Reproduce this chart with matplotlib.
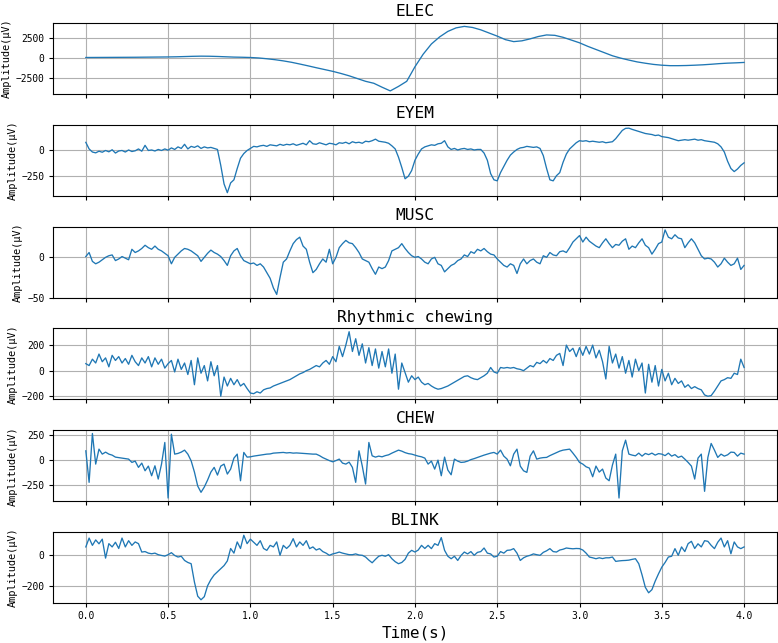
import numpy as np
import matplotlib
matplotlib.use('Agg')
import matplotlib.pyplot as plt

titles = ['ELEC', 'EYEM', 'MUSC', 'Rhythmic chewing', 'CHEW', 'BLINK']

# ELEC sampled every 0.05 s
elec = [80, 85, 90, 95, 100, 105, 110, 120, 130, 140,
        150, 170, 200, 230, 250, 240, 210, 170, 130, 110,
        80, 20, -80, -200, -350, -530, -750, -980, -1220, -1450,
        -1680, -1950, -2250, -2600, -2950, -3200, -3700, -4170, -3600, -2950,
        -1100, 500, 1800, 2700, 3400, 3850, 4040, 3900, 3600, 3200,
        2800, 2350, 2100, 2200, 2450, 2750, 2950, 2900, 2650, 2300,
        1950, 1500, 1100, 700, 300, 0, -250, -480, -650, -800,
        -900, -960, -960, -940, -900, -850, -780, -700, -640, -600,
        -550]

# the rest sampled every 0.02 s
eyem = [74, 10, -20, -28, -12, -22, -5, -18, 2, -30,
        -10, -5, -20, 0, -15, -8, 10, -12, 45, -5,
        0, -10, 5, -5, 10, -2, 20, 5, 30, 15,
        55, 10, 35, 25, 40, 15, 30, 20, 25, 15,
        5, -150, -330, -415, -320, -290, -180, -80, -35, -5,
        15, 35, 30, 40, 45, 35, 50, 45, 40, 55,
        45, 55, 50, 60, 45, 55, 65, 50, 90, 60,
        55, 70, 60, 50, 65, 60, 50, 70, 65, 75,
        60, 80, 70, 75, 65, 85, 80, 90, 105, 85,
        80, 75, 65, 40, 10, -70, -170, -280, -255, -200,
        -100, -40, 10, 30, 40, 50, 45, 60, 65, 90,
        30, 5, 15, 0, 10, 15, 5, 10, 0, 5,
        5, -30, -100, -230, -290, -300, -220, -160, -100, -50,
        -20, 5, 20, 25, 35, 30, 25, 30, 15, -55,
        -180, -290, -300, -250, -220, -120, -40, 10, 40, 70,
        90, 85, 90, 80, 85, 80, 75, 80, 70, 75,
        80, 110, 150, 190, 210, 212, 200, 190, 180, 170,
        160, 155, 150, 140, 145, 130, 125, 120, 110, 100,
        90, 95, 100, 95, 100, 105, 95, 100, 90, 85,
        80, 75, 60, 30, -20, -110, -180, -210, -185, -150,
        -125]

musc = [1, 6, -5, -8, -6, -3, 0, 2, 3, -4,
        -2, 1, -1, -3, 10, 6, 8, 11, 15, 12,
        10, 14, 10, 8, 5, 2, -8, 0, 4, 8,
        11, 10, 8, 5, 2, -5, 0, 5, 9, 6,
        4, 1, -4, -10, 2, 8, 11, 2, -4, -6,
        -8, -7, -10, -8, -12, -19, -26, -38, -46, -25,
        -6, -2, 8, 17, 22, 25, 14, 10, -6, -19,
        -15, -8, -2, -6, 10, -8, 0, 12, 17, 21,
        18, 17, 12, 6, -2, -4, -6, -14, -21, -12,
        -14, -12, -4, 8, 10, 12, 17, 11, 6, 2,
        0, 1, -2, -6, -8, -2, 0, -8, -10, -18,
        -14, -10, -8, -4, -2, 3, 1, 7, 5, 10,
        8, 11, 7, 4, 3, -2, -6, -10, -12, -8,
        -10, -20, -8, -2, -8, -4, -2, -6, -8, 2,
        0, 6, 3, 2, 7, 8, 6, 12, 19, 23,
        27, 19, 25, 20, 17, 14, 12, 18, 23, 17,
        12, 16, 15, 20, 23, 10, 14, 12, 18, 23,
        15, 12, 4, 10, 17, 19, 34, 25, 23, 28,
        24, 23, 12, 18, 23, 18, 10, 2, -2, -1,
        -2, -6, -12, -8, -1, -6, -10, -8, -1, -15,
        -10]

rhythm = [55, 40, 90, 60, 130, 70, 100, 30, 120, 80,
          110, 60, 95, 50, 120, 70, 40, 100, 60, 110,
          30, 100, 50, 90, 20, 55, 80, -10, 90, 10,
          60, -30, 80, -110, 100, -20, 40, -80, 70, -40,
          40, -200, -50, -120, -60, -110, -70, -120, -100, -140,
          -175, -180, -165, -175, -150, -140, -135, -120, -110, -100,
          -90, -80, -70, -55, -40, -25, -15, 0, 10, 25,
          40, 30, 60, 80, 50, 110, 70, 190, 110, 200,
          305, 150, 250, 120, 210, 60, 180, 40, 170, 20,
          150, 30, 170, -20, 130, -145, 60, -15, -90, -40,
          -70, -50, -90, -110, -100, -120, -135, -145, -140, -130,
          -120, -105, -90, -75, -60, -45, -40, -55, -65, -70,
          -55, -40, -20, 25, -10, -20, 25, 20, 25, 20,
          25, 15, 10, 0, 20, 40, 30, 65, 55, 80,
          60, 95, 80, 120, 135, 40, 200, 150, 175, 110,
          180, 120, 190, 130, 200, 100, 160, 70, -65, 190,
          60, 130, 20, 110, -20, 80, -50, 90, 0, 60,
          -175, 50, -90, 40, -120, 10, -80, -20, -110, -60,
          -100, -80, -130, -110, -140, -125, -140, -150, -190, -200,
          -195, -160, -120, -80, -70, -55, -60, -20, -30, 90,
          25]

chew = [93, -223, 267, -40, 110, 60, 80, 60, 50, 30,
        25, 20, 15, 10, -23, -10, -73, -30, -107, -60,
        -157, -57, -190, -40, 177, -380, 260, 60, 67, 80,
        100, 60, -7, -120, -260, -323, -270, -200, -120, -73,
        -150, -60, -40, -140, -90, 20, 60, -207, 77, 30,
        33, 40, 45, 50, 55, 60, 62, 70, 72, 75,
        77, 72, 75, 70, 72, 70, 68, 65, 62, 60,
        60, 45, 25, 10, -5, -17, -5, 10, -30, -40,
        -20, -73, -223, 93, -60, -240, 177, 43, 30, 40,
        33, 45, 53, 70, 85, 100, 90, 75, 65, 60,
        50, 40, 33, 20, -40, -10, -90, 0, -157, 30,
        -100, -147, 10, -10, -23, -20, -10, 5, 15, 27,
        40, 50, 60, 70, 77, 60, 100, 40, 10, -57,
        60, 110, -60, -107, -123, 40, 93, 10, 20, 25,
        27, 45, 60, 75, 90, 100, 105, 110, 70, 27,
        -23, -40, -67, -80, -167, -60, -120, -90, -180, -207,
        -50, 60, -380, 93, 200, 60, 50, 43, 70, 40,
        67, 55, 70, 50, 65, 60, 45, 70, 40, 55,
        27, 40, 10, -23, -60, -190, 20, 60, -313, 27,
        167, 100, 27, 60, 40, 53, 80, 77, 40, 70,
        60]

blink = [50, 107, 60, 95, 70, 100, -22, 71, 50, 80,
         40, 107, 50, 90, 60, 82, 71, 17, 20, 10,
         6, 10, 0, -5, -9, 0, 13, -5, -15, -10,
         -37, -50, -58, -176, -267, -290, -270, -200, -160, -130,
         -110, -90, -70, -40, 40, 10, 82, 40, 125, 71,
         100, 80, 60, 90, 40, 28, 60, 50, 82, -4,
         60, 40, 60, 103, 50, 82, 60, 90, 39, 50,
         30, 39, 20, 10, -4, 5, 10, 17, 10, 5,
         0, 0, 5, -2, -4, -15, -35, -52, -30, -10,
         -4, -10, 0, -26, -45, -58, -50, -30, 10, 28,
         17, 30, 60, 40, 60, 39, 71, 60, 110, 28,
         -10, -26, -10, -37, -5, 17, 5, 20, -4, 15,
         20, 43, 10, 5, -15, -10, 20, 10, 28, 30,
         39, 10, -37, -20, -10, -4, 5, 0, -4, 15,
         25, 39, 20, 17, 30, 35, 43, 40, 38, 40,
         39, 30, 10, -15, -20, -26, -20, -25, -20, -20,
         -15, -43, -40, -38, -37, -35, -30, -26, -58, -130,
         -210, -245, -225, -170, -123, -80, -50, -15, -10, 39,
         -4, 50, 20, 71, 86, 40, 70, 50, 90, 86,
         60, 39, 80, 107, 50, 90, 6, 82, 50, 39,
         50]

series = [elec, eyem, musc, rhythm, chew, blink]
yticks = [[-2500, 0, 2500], [-250, 0], [-50, 0], [-200, 0, 200],
          [-250, 0, 250], [-200, 0]]
xticks = [0.0, 0.5, 1.0, 1.5, 2.0, 2.5, 3.0, 3.5, 4.0]

plt.rcParams['font.family'] = ['DejaVu Sans Mono', 'DejaVu Sans']

fig, axes = plt.subplots(6, 1, figsize=(7.78, 6.43), dpi=100, sharex=True)
fig.subplots_adjust(left=0.068, right=0.9987, top=0.964, bottom=0.0622,
                    hspace=0.434)

for ax, title, y, yt in zip(axes, titles, series, yticks):
    tt = np.linspace(0, 4, len(y))
    ax.plot(tt, y, color='#1f77b4', lw=0.95)
    ax.set_title(title, fontsize=11.7, pad=5)
    ax.set_ylabel('Amplitude(μV)', fontsize=7.4, labelpad=3)
    ax.set_yticks(yt)
    ax.grid(True, color='#b0b0b0', lw=0.8)
    ax.tick_params(labelsize=6.9, length=3, pad=3)

axes[-1].set_xticks(xticks)
axes[-1].set_xlabel('Time(s)', fontsize=11.5, labelpad=3)

fig.savefig('out.png', dpi=100)
